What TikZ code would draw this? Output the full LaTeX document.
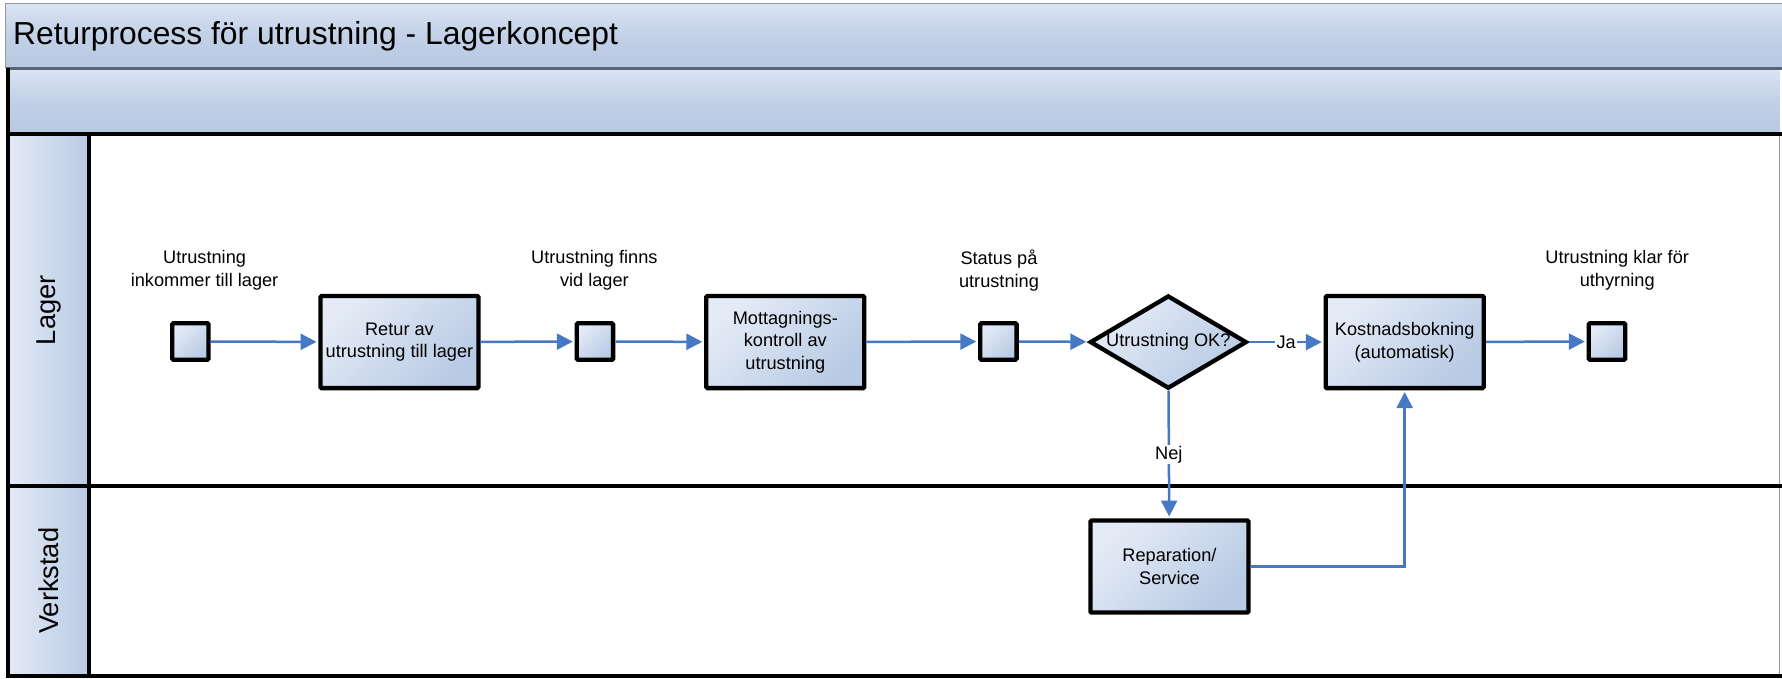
\documentclass[tikz,border=0pt]{standalone}
\usepackage{fontspec}
\setmainfont{Liberation Sans}
\usetikzlibrary{arrows.meta,shapes.geometric}
\definecolor{flowblue}{RGB}{70,120,196}
\definecolor{shadelight}{RGB}{228,235,246}
\definecolor{shadedark}{RGB}{184,202,228}
\definecolor{barlight}{RGB}{218,228,242}
\definecolor{bardark}{RGB}{183,200,226}
\definecolor{barline}{RGB}{90,100,115}
\definecolor{frameline}{RGB}{150,150,150}

\begin{document}
\begin{tikzpicture}[x=1pt,y=-1pt,
  boxfill/.style={top color=shadelight, bottom color=shadedark, shading angle=45},
  task/.style={draw=black, line width=3.8pt, rounded corners=1pt, boxfill,
    minimum width=139pt, minimum height=81pt, inner sep=2pt, align=center,
    font=\fontsize{16}{20}\selectfont},
  event/.style={draw=black, line width=3.8pt, rounded corners=1pt, boxfill,
    minimum width=32pt, minimum height=32pt, inner sep=0pt},
  decision/.style={diamond, draw=black, line width=3.8pt, boxfill,
    minimum width=138pt, minimum height=82pt, inner sep=0pt},
  caption/.style={align=center, font=\fontsize{16}{20}\selectfont},
  flow/.style={draw=flowblue, line width=2.2pt, shorten >=1.6pt,
    -{Triangle[length=14pt,width=14pt]}},
  flowlabel/.style={fill=white, inner sep=1pt, font=\fontsize{16}{20}\selectfont},
  lanelabel/.style={rotate=90, font=\fontsize{24}{28}\selectfont},
  laneline/.style={draw=black, line width=3.5pt},
  headerfill/.style={top color=barlight, bottom color=bardark, middle color=bardark!70!barlight}
]
\useasboundingbox (0,0) rectangle (1568,597);

% header bars
\path[headerfill] (5,3) rectangle (1568,60);
\draw[frameline, line width=1pt] (5,60) -- (5,3) -- (1568,3);
\path[headerfill] (7,60) rectangle (1566,118);
\draw[barline, line width=2.5pt] (5,60) -- (1568,60);
\node[anchor=west, font=\fontsize{28}{32}\selectfont] (title) at (8,32)
  {Returprocess för utrustning - Lagerkoncept};

% lane label columns
\path[left color=shadelight, right color=shadedark] (7,118) rectangle (78,428);
\path[left color=shadelight, right color=shadedark] (7,428) rectangle (78,595);
\node[lanelabel] (lagerlbl) at (43,273) {Lager};
\node[lanelabel] (verkstadlbl) at (43,511) {Verkstad};

% lane frame
\draw[frameline, line width=1pt] (1566,118) -- (1566,595);
\draw[laneline] (5,118) -- (1568,118);
\draw[laneline] (7,428) -- (1568,428);
\draw[laneline] (7,595) -- (1568,595);
\draw[laneline] (7,60) -- (7,597);
\draw[laneline] (78,118) -- (78,597);

% events and tasks
\node[event] (start) at (167.5,300.5) {};
\node[caption] (startlbl) at (180,238) {Utrustning\\inkommer till lager};
\node[task] (retur) at (351.5,301) {Retur av\\utrustning till lager};
\node[event] (finns) at (523.5,300.5) {};
\node[caption] (finnslbl) at (523,238) {Utrustning finns\\vid lager};
\node[task] (kontroll) at (691,301) {Mottagnings-\\kontroll av\\utrustning};
\node[event] (status) at (878.5,300.5) {};
\node[caption] (statuslbl) at (879,238) {Status på\\utrustning};
\node[decision] (ok) at (1028,301) {};
\node[font=\fontsize{16}{20}\selectfont] (oktext) at (1028,301) {Utrustning OK?};
\node[task] (kostnad) at (1236,301) {Kostnadsbokning\\(automatisk)};
\node[event] (klar) at (1414,300.5) {};
\node[caption] (klarlbl) at (1423,238) {Utrustning klar för\\uthyrning};
\node[task] (reparation) at (1029,498.5) {Reparation/\\Service};

% sequence flows
\draw[flow] (start) -- (retur);
\draw[flow] (retur) -- (finns);
\draw[flow] (finns) -- (kontroll);
\draw[flow] (kontroll) -- (status);
\draw[flow] (status) -- (ok);
\draw[flow] (ok) -- node[flowlabel] (ja) {Ja} (kostnad);
\draw[flow] (kostnad) -- (klar);
\draw[flow] (ok) -- node[flowlabel, pos=0.5] (nej) {Nej} (reparation);
\draw[flow] (reparation.east) -| (kostnad.south);
\end{tikzpicture}
\end{document}
